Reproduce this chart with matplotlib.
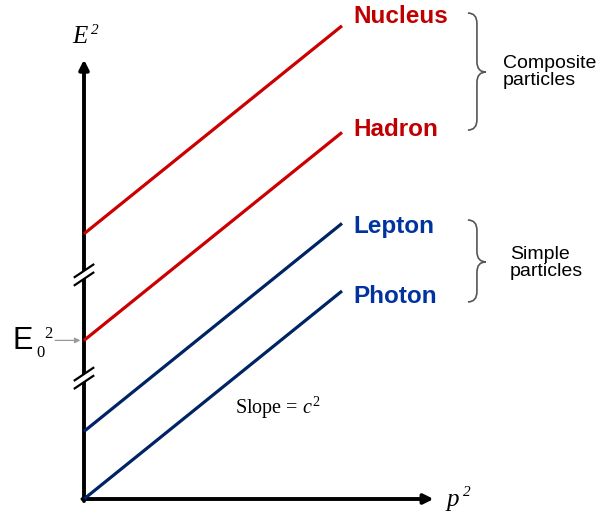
import matplotlib.pyplot as plt
from matplotlib.path import Path
from matplotlib.patches import PathPatch

plt.rcParams['mathtext.fontset'] = 'custom'
plt.rcParams['mathtext.rm'] = 'Liberation Serif'
plt.rcParams['mathtext.it'] = 'Liberation Serif:italic'

# E^2 = (pc)^2 + E0^2  -> straight lines of slope c^2 in the (p^2, E^2) plane
particles = ["Photon", "Lepton", "Hadron", "Nucleus"]
rest_energy_sq = [0.0, 0.26, 0.61, 1.02]   # intercepts E0^2 (axis is broken)
c2 = 0.8                                    # common slope
p2_range = [0.0, 1.0]
groups = ["Simple\nparticles", "Composite\nparticles"]

red, navy = "#CC0000", "#002366"
line_colors = [navy, navy, red, red]
label_colors = ["#0033A0", "#0033A0", "#C00000", "#C00000"]
label_dy = [-0.02, -0.01, 0.01, 0.035]

fig = plt.figure(figsize=(6.03, 5.16), dpi=100)
ax = fig.add_axes([0, 0, 1, 1])
ax.set_xlim(-84 / 258, 519 / 258)
ax.set_ylim(-17 / 260, 499 / 260)
ax.axis("off")

# axes with arrow heads
arrow = dict(arrowstyle="-|>", lw=2.8, color="black", mutation_scale=14,
             shrinkA=0, shrinkB=0)
ax.annotate("", xy=(0, 1.69), xytext=(0, -0.008), arrowprops=arrow)
ax.annotate("", xy=(1.355, 0), xytext=(-0.006, 0), arrowprops=arrow)

# the lines
for name, e0, lc, tc, dy in zip(particles, rest_energy_sq, line_colors,
                                label_colors, label_dy):
    y = [e0 + c2 * p for p in p2_range]
    ax.plot(p2_range, y, color=lc, lw=2.3, solid_capstyle="butt", zorder=3)
    ax.text(p2_range[1] + 0.045, y[1] + dy, name, color=tc, fontsize=17.5,
            fontweight="bold", family="Liberation Sans", ha="left", va="center")

# axis breaks
for yb in [0.862, 0.465]:
    hw, rise, gap = 0.036, 0.024, 0.031
    ax.fill([-hw, hw, hw, -hw], [yb - rise - gap / 2, yb + rise - gap / 2,
                                 yb + rise + gap / 2, yb - rise + gap / 2],
            color="white", zorder=4, lw=0)
    for s in (-gap / 2, gap / 2):
        ax.plot([-hw, hw], [yb - rise + s, yb + rise + s], color="black",
                lw=1.6, zorder=5)


def brace(x, y0, y1, ym, w, r):
    verts = [(x, y1), (x + w / 2, y1), (x + w / 2, y1 - r),
             (x + w / 2, ym + r), (x + w / 2, ym), (x + w, ym),
             (x + w / 2, ym), (x + w / 2, ym - r),
             (x + w / 2, y0 + r), (x + w / 2, y0), (x, y0)]
    codes = [Path.MOVETO, Path.CURVE3, Path.CURVE3, Path.LINETO,
             Path.CURVE3, Path.CURVE3, Path.CURVE3, Path.CURVE3,
             Path.LINETO, Path.CURVE3, Path.CURVE3]
    ax.add_patch(PathPatch(Path(verts, codes), fc="none", ec="#555555", lw=1.2))


brace(1.488, 0.758, 1.073, 0.912, 0.07, 0.04)
brace(1.488, 1.419, 1.869, 1.642, 0.07, 0.04)
ax.text(1.651, 0.908, groups[0], fontsize=14, family="Liberation Sans",
        ha="left", va="center", linespacing=1.0)
ax.text(1.624, 1.642, groups[1], fontsize=14, family="Liberation Sans",
        ha="left", va="center", linespacing=1.0)

# axis titles
ax.text(-0.0465, 1.754, "E", fontsize=18, family="Liberation Serif",
        style="italic", ha="left", va="baseline")
ax.text(0.027, 1.787, "2", fontsize=11, family="Liberation Serif",
        style="italic", ha="left", va="baseline")
ax.text(1.403, -0.027, "p", fontsize=18, family="Liberation Serif",
        style="italic", ha="left", va="baseline")
ax.text(1.469, 0.01, "2", fontsize=11, family="Liberation Serif",
        style="italic", ha="left", va="baseline")
ax.text(0.752, 0.35, "Slope = $c^2$", fontsize=14.5, family="Liberation Serif",
        ha="center", va="center")

e0 = rest_energy_sq[2]
ax.text(-0.278, e0 - 0.033, "E", fontsize=22, family="Liberation Sans",
        ha="left", va="baseline")
ax.text(-0.185, e0 - 0.065, "0", fontsize=12, family="Liberation Serif",
        ha="left", va="baseline")
ax.text(-0.156, e0 + 0.01, "2", fontsize=12, family="Liberation Serif",
        ha="left", va="baseline")
ax.annotate("", xy=(-0.014, e0), xytext=(-0.112, e0),
            arrowprops=dict(arrowstyle="-|>", lw=0.9, color="#999999",
                            mutation_scale=8, shrinkA=0, shrinkB=0))

fig.savefig("out.png", dpi=100)
